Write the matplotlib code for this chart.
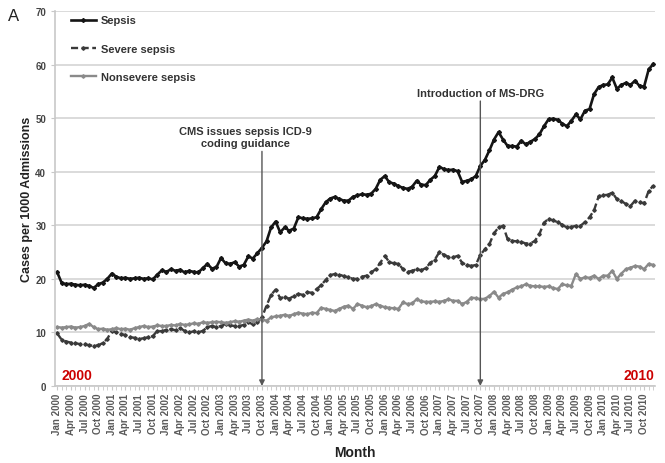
import matplotlib
matplotlib.use('Agg')
import matplotlib.pyplot as plt

plt.rcParams['font.family'] = ['Liberation Sans', 'DejaVu Sans']

# monthly values, Jan 2000 .. Dec 2010
sepsis = [
    21.2, 19.2, 19.0, 19.1, 18.9, 18.8, 18.9, 18.7, 18.3, 19.0, 19.3, 20.0,
    21.0, 20.4, 20.1, 20.2, 20.0, 20.1, 20.2, 20.0, 20.1, 19.9, 20.8, 21.6,
    21.3, 21.8, 21.5, 21.7, 21.2, 21.5, 21.3, 21.2, 22.0, 22.8, 21.9, 22.2,
    23.9, 22.9, 22.8, 23.1, 22.3, 22.6, 24.2, 23.8, 24.8, 25.8, 27.0, 29.6,
    30.7, 28.7, 29.6, 29.0, 29.4, 31.5, 31.3, 31.2, 31.3, 31.5, 33.0, 34.3,
    35.0, 35.3, 34.9, 34.6, 34.6, 35.3, 35.6, 35.8, 35.7, 35.9, 36.8, 38.5,
    39.2, 38.0, 37.8, 37.3, 37.0, 36.8, 37.2, 38.3, 37.6, 37.5, 38.5, 39.2,
    40.9, 40.5, 40.3, 40.4, 40.1, 38.1, 38.3, 38.6, 39.2, 41.1, 42.2, 44.0,
    46.0, 47.4, 46.0, 44.8, 44.8, 44.7, 45.8, 45.1, 45.6, 46.1, 47.0, 48.5,
    49.8, 49.9, 49.7, 49.0, 48.5, 49.5, 50.7, 49.8, 51.4, 51.7, 54.5, 55.8,
    56.2, 56.3, 57.6, 55.5, 56.2, 56.6, 56.2, 57.0, 56.0, 55.9, 59.1, 60.1,
]
severe = [
    9.8, 8.6, 8.3, 8.1, 8.0, 7.8, 7.8, 7.6, 7.5, 7.6, 8.0, 8.8,
    10.3, 10.0, 9.7, 9.5, 9.1, 9.0, 8.8, 8.9, 9.1, 9.3, 10.3, 10.2,
    10.5, 10.6, 10.4, 10.8, 10.3, 10.0, 10.2, 10.0, 10.3, 11.0, 11.2, 11.0,
    11.2, 11.6, 11.3, 11.2, 11.2, 11.4, 11.9, 11.5, 11.9, 12.8, 15.0, 17.0,
    18.0, 16.4, 16.6, 16.3, 16.8, 17.2, 17.0, 17.5, 17.4, 18.1, 18.8, 19.8,
    20.7, 20.9, 20.8, 20.5, 20.3, 20.0, 20.0, 20.4, 20.6, 21.2, 21.8, 23.0,
    24.3, 23.1, 22.9, 22.8, 21.8, 21.3, 21.5, 21.8, 21.6, 22.0, 23.0, 23.6,
    25.0, 24.5, 24.1, 24.0, 24.3, 23.0, 22.6, 22.4, 22.6, 24.5, 25.5, 26.5,
    28.5, 29.6, 29.9, 27.4, 27.1, 27.0, 26.9, 26.6, 26.6, 27.1, 28.4, 30.5,
    31.2, 30.9, 30.6, 30.1, 29.6, 29.7, 29.9, 29.9, 30.6, 31.5, 32.8, 35.4,
    35.6, 35.7, 36.1, 34.9, 34.5, 34.0, 33.6, 34.6, 34.3, 34.1, 36.4, 37.4,
]
nonsevere = [
    11.0, 10.9, 11.0, 11.1, 10.9, 11.0, 11.2, 11.6, 11.0, 10.6, 10.7, 10.5,
    10.6, 10.8, 10.6, 10.7, 10.5, 10.8, 11.0, 11.2, 11.0, 11.1, 11.3, 11.2,
    11.2, 11.4, 11.3, 11.6, 11.4, 11.5, 11.7, 11.6, 11.9, 11.8, 11.9, 12.0,
    11.9, 11.8, 11.9, 12.1, 12.0, 12.2, 12.4, 12.2, 12.5, 12.4, 12.2, 12.8,
    13.0, 13.1, 13.3, 13.1, 13.4, 13.7, 13.5, 13.4, 13.7, 13.6, 14.6, 14.4,
    14.2, 14.0, 14.4, 14.8, 15.0, 14.4, 15.3, 15.0, 14.7, 14.9, 15.3, 15.0,
    14.7, 14.6, 14.5, 14.4, 15.6, 15.3, 15.4, 16.2, 15.8, 15.7, 15.7, 15.8,
    15.7, 15.9, 16.2, 15.9, 15.9, 15.3, 15.7, 16.5, 16.4, 16.2, 16.3, 16.8,
    17.6, 16.5, 17.2, 17.5, 18.0, 18.4, 18.6, 19.0, 18.7, 18.6, 18.6, 18.5,
    18.6, 18.3, 18.1, 19.0, 18.8, 18.7, 20.9, 20.0, 20.3, 20.2, 20.6, 20.0,
    20.6, 20.6, 21.5, 20.0, 21.0, 21.8, 22.1, 22.4, 22.3, 21.8, 22.8, 22.6,
]

years = list(range(2000, 2011))
month_names = ['Jan', 'Apr', 'Jul', 'Oct']
tick_labels = [m + ' ' + str(y) for y in years for m in month_names]
months = list(range(len(sepsis)))

fig = plt.figure(figsize=(6.65, 4.64), dpi=100)
ax = fig.add_axes([0.083, 0.166, 0.902, 0.808])

ax.plot(months, sepsis, color='#151515', lw=1.9, marker='D', ms=2.0, label='Sepsis')
ax.plot(months, severe, color='#3a3a3a', lw=1.7, ls=(0, (3, 1.5)), marker='D', ms=1.8, label='Severe sepsis')
ax.plot(months, nonsevere, color='#8a8a8a', lw=1.7, marker='D', ms=1.8, label='Nonsevere sepsis')

ax.set_ylim(0, 70)
ax.set_xlim(-0.45, 131.4)
ax.set_yticks(range(0, 71, 10))
ax.yaxis.grid(True, color='#d4d4d4', lw=1.2)
ax.set_axisbelow(True)
ax.set_xticks(range(0, 132, 3))
ax.set_xticklabels(tick_labels, rotation=90, fontsize=7, color='#5a5a5a', fontweight='bold')
ax.set_xticks(months, minor=True)
ax.tick_params(axis='x', which='both', length=3, color='#c8c8c8', pad=2)
ax.tick_params(axis='y', length=3, color='#c8c8c8', labelsize=7, labelcolor='#444444')
for lab in ax.get_yticklabels():
    lab.set_fontweight('bold')
for s in ['top', 'right']:
    ax.spines[s].set_visible(False)
for s in ['left', 'bottom']:
    ax.spines[s].set_color('#c8c8c8')
    ax.spines[s].set_linewidth(1.2)

ax.set_ylabel('Cases per 1000 Admissions', fontsize=9, fontweight='bold', color='#222222', labelpad=2)
ax.set_xlabel('Month', fontsize=10, fontweight='bold', color='#222222', labelpad=8)

leg = ax.legend(loc='upper left', bbox_to_anchor=(0.01, 1.015), frameon=False, fontsize=8,
                handlelength=2.2, labelspacing=1.65, handletextpad=0.5)
for t in leg.get_texts():
    t.set_fontweight('bold')
    t.set_color('#333333')

# event annotations
arrow = dict(arrowstyle='-|>', color='#555555', lw=1.0, shrinkA=0, shrinkB=0, mutation_scale=8)
ax.text(41.3, 44.4, 'CMS issues sepsis ICD-9\ncoding guidance', ha='center', va='bottom',
        fontsize=8, color='#333333', fontweight='bold', linespacing=1.3)
ax.annotate('', xy=(45, 0), xytext=(45, 43.8), arrowprops=arrow)
ax.text(93, 53.8, 'Introduction of MS-DRG', ha='center', va='bottom',
        fontsize=8, color='#333333', fontweight='bold')
ax.annotate('', xy=(93, 0), xytext=(93, 53.2), arrowprops=arrow)

ax.text(1, 1.3, '2000', color='#cc0000', fontsize=10, fontweight='bold')
ax.text(131.3, 1.3, '2010', color='#cc0000', fontsize=10, fontweight='bold', ha='right')
fig.text(0.012, 0.955, 'A', fontsize=12, color='#222222')

fig.savefig('out.png', dpi=100)
